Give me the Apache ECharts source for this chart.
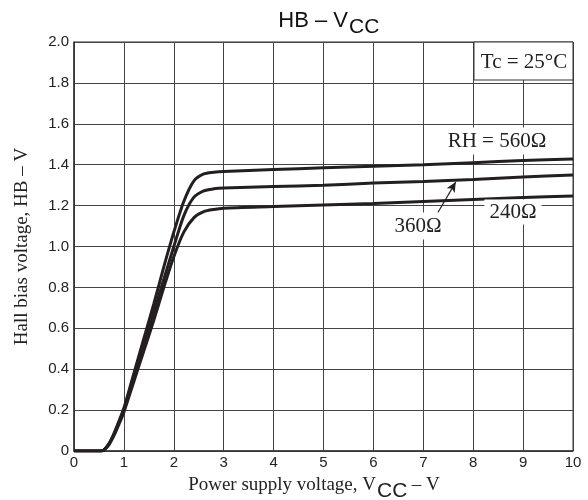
<!DOCTYPE html>
<html>
<head>
<meta charset="utf-8">
<script src="https://cdn.jsdelivr.net/npm/echarts@6/dist/echarts.min.js"></script>
<style>
  html, body { margin: 0; padding: 0; background: #fff; }
  #main { width: 588px; height: 500px; }
</style>
</head>
<body>
<div id="main"></div>
<script>
// 横轴 Vcc (V)
var vcc = [0, 0.55, 0.6, 0.7, 0.8, 0.9, 1.0, 1.2, 1.4, 1.6, 1.8, 2.0, 2.2, 2.4, 2.6, 2.8, 3, 4, 5, 6, 7, 8, 9, 10];
// 三条曲线 HB (V)
var hb560 = [0, 0, 0.005, 0.035, 0.085, 0.145, 0.21, 0.38, 0.55, 0.72, 0.9, 1.07, 1.22, 1.32, 1.355, 1.363, 1.367, 1.376, 1.385, 1.392, 1.40, 1.41, 1.42, 1.428];
var hb360 = [0, 0, 0.005, 0.035, 0.08, 0.14, 0.20, 0.36, 0.52, 0.68, 0.84, 1.0, 1.15, 1.24, 1.272, 1.282, 1.286, 1.293, 1.30, 1.31, 1.318, 1.328, 1.34, 1.35];
var hb240 = [0, 0, 0.005, 0.03, 0.075, 0.13, 0.19, 0.34, 0.49, 0.64, 0.80, 0.95, 1.07, 1.14, 1.17, 1.181, 1.187, 1.195, 1.203, 1.21, 1.22, 1.23, 1.24, 1.247];
// 箭头 (360Ω)
var arrowFrom = [7.29, 1.165];
var arrowTo = [7.65, 1.315];

function zip(xs, ys) {
  return xs.map(function (x, i) { return [x, ys[i]]; });
}

var serif = '"Liberation Serif", "DejaVu Serif", serif';
var sans = '"Liberation Sans", Arial, sans-serif';

function curve(name, ys) {
  return {
    name: name,
    type: 'line',
    data: zip(vcc, ys),
    showSymbol: false,
    smooth: 0.25,
    lineStyle: { color: '#231f20', width: 3 },
    z: 5
  };
}

var s360 = curve('360', hb360);
s360.markLine = {
  silent: true,
  symbol: ['none', 'arrow'],
  symbolSize: [7, 10],
  label: { show: false },
  lineStyle: { color: '#231f20', width: 1.2, type: 'solid' },
  data: [[{ coord: arrowFrom }, { coord: arrowTo }]]
};

var myChart = echarts.init(document.getElementById('main'));
myChart.setOption({
  animation: false,
  grid: {
    left: 74, right: 15, top: 42, bottom: 49,
    show: true, borderColor: '#333', borderWidth: 1
  },
  xAxis: {
    type: 'value', min: 0, max: 10, interval: 1,
    axisLine: { lineStyle: { color: '#333', width: 1.5 } },
    axisTick: { show: false },
    axisLabel: { color: '#222', fontFamily: sans, fontSize: 15, margin: 4 },
    splitLine: { lineStyle: { color: '#444', width: 1 } }
  },
  yAxis: {
    type: 'value', min: 0, max: 2, interval: 0.2,
    name: 'Hall bias voltage, HB – V',
    nameLocation: 'middle',
    nameGap: 42,
    nameTextStyle: { fontFamily: serif, fontSize: 19, color: '#222' },
    axisLine: { lineStyle: { color: '#333', width: 1.5 } },
    axisTick: { show: false },
    axisLabel: {
      color: '#222', fontFamily: sans, fontSize: 15, margin: 5,
      formatter: function (v) { return v === 0 ? '0' : v.toFixed(1); }
    },
    splitLine: { lineStyle: { color: '#444', width: 1 } }
  },
  series: [curve('560', hb560), s360, curve('240', hb240)],
  graphic: [
    // 标题
    { type: 'text', x: 348, y: 21, z: 100,
      style: { text: 'HB – V', font: '22px ' + sans, fill: '#111', align: 'right', verticalAlign: 'middle' } },
    { type: 'text', x: 349, y: 27, z: 100,
      style: { text: 'CC', font: '21px ' + sans, fill: '#111', align: 'left', verticalAlign: 'middle' } },
    // 横轴名称
    { type: 'text', x: 376, y: 485, z: 100,
      style: { text: 'Power supply voltage, V', font: '19px ' + serif, fill: '#222', align: 'right', verticalAlign: 'middle' } },
    { type: 'text', x: 377, y: 491, z: 100,
      style: { text: 'CC', font: '21px ' + sans, fill: '#222', align: 'left', verticalAlign: 'middle' } },
    { type: 'text', x: 407, y: 485, z: 100,
      style: { text: ' – V', font: '19px ' + serif, fill: '#222', align: 'left', verticalAlign: 'middle' } },
    // Tc 框
    { type: 'rect', z: 100, shape: { x: 474, y: 42, width: 99, height: 38 },
      style: { fill: '#fff', stroke: '#333', lineWidth: 1 } },
    { type: 'text', x: 524, y: 62, z: 101,
      style: { text: 'Tc = 25°C', font: '21px ' + serif, fill: '#222', align: 'center', verticalAlign: 'middle' } },
    // 曲线标注
    { type: 'text', x: 497, y: 141, z: 100,
      style: { text: 'RH = 560Ω', font: '21px ' + serif, fill: '#222', align: 'center', verticalAlign: 'middle',
        backgroundColor: '#fff', padding: [3, 6] } },
    { type: 'text', x: 418, y: 226, z: 100,
      style: { text: '360Ω', font: '21px ' + serif, fill: '#222', align: 'center', verticalAlign: 'middle',
        backgroundColor: '#fff', padding: [3, 5] } },
    { type: 'text', x: 513, y: 212, z: 100,
      style: { text: '240Ω', font: '21px ' + serif, fill: '#222', align: 'center', verticalAlign: 'middle',
        backgroundColor: '#fff', padding: [2, 5] } }
  ]
});
</script>
</body>
</html>
